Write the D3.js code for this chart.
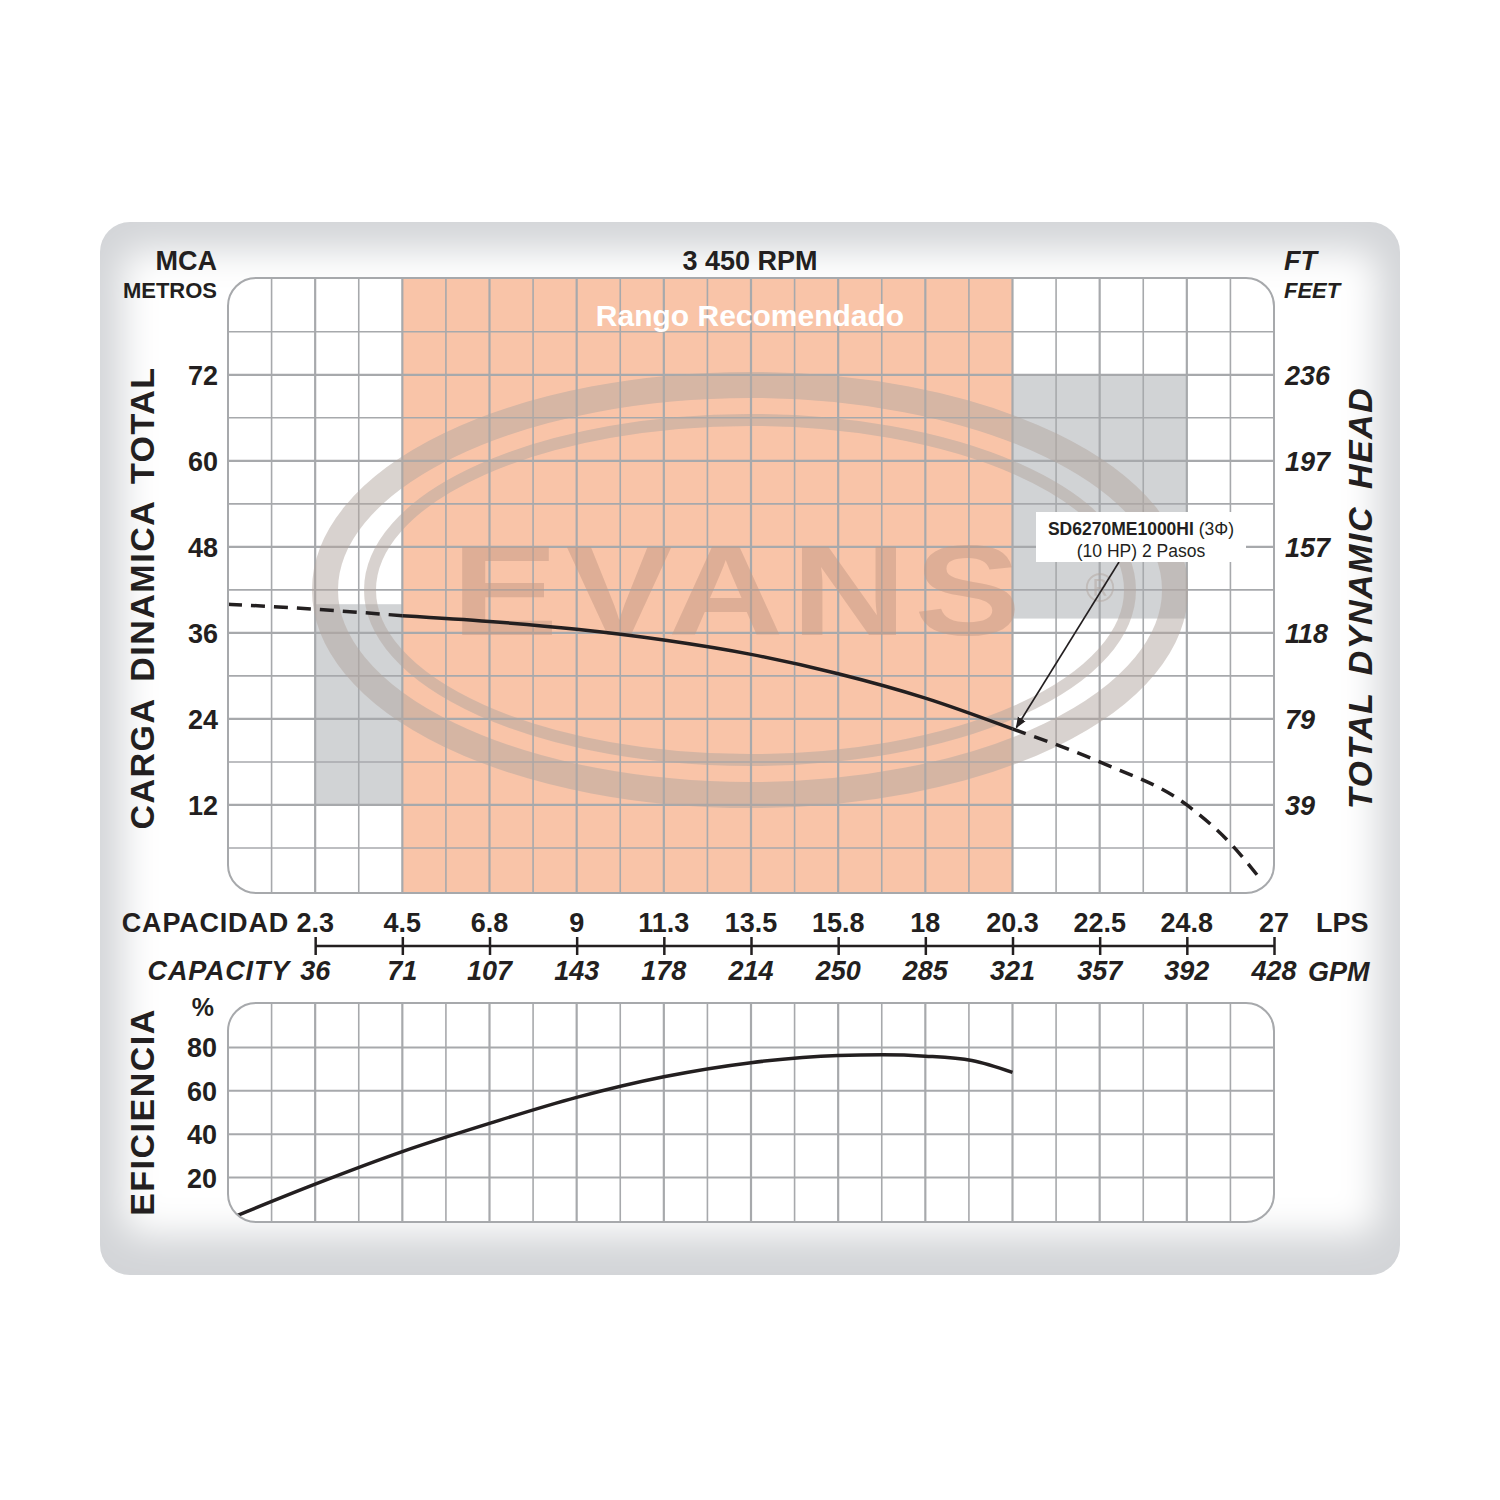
<!DOCTYPE html>
<html>
<head>
<meta charset="utf-8">
<script src="https://cdn.jsdelivr.net/npm/d3@7"></script>
<style>
  body { margin: 0; background: #fff; }
  text { font-family: "Liberation Sans", Arial, sans-serif; font-weight: bold; fill: #231f20; }
</style>
</head>
<body>
<script>
// data
const lpsTicks = [2.25, 4.5, 6.75, 9, 11.25, 13.5, 15.75, 18, 20.25, 22.5, 24.75, 27]
const lpsLabels = ["2.3", "4.5", "6.8", "9", "11.3", "13.5", "15.8", "18", "20.3", "22.5", "24.8", "27"]
const gpmLabels = ["36", "71", "107", "143", "178", "214", "250", "285", "321", "357", "392", "428"]
const headTicks = [12, 24, 36, 48, 60, 72]
const feetLabels = ["39", "79", "118", "157", "197", "236"]
const effTicks = [20, 40, 60, 80]

const headSolid = [[4.5, 38.4], [6.75, 37.6], [9, 36.5], [11.25, 35.0], [13.5, 33.0], [15.75, 30.3], [18, 26.9], [20.25, 22.6]]
const headDashLeft = [[0, 40.0], [2.25, 39.3], [4.5, 38.4]]
const headDashRight = [[20.25, 22.6], [22.5, 18.0], [24.75, 12.0], [25.9, 6.5], [26.6, 2.0]]
const effCurve = [[0.2, 2.3], [2.25, 17], [4.5, 32], [6.75, 45], [9, 57], [11.25, 66.5], [13.5, 73], [15.75, 76.3], [16.9, 76.6], [18, 76.0], [19.2, 74.0], [20.25, 68.5]]

const recommended = [4.5, 20.25]
const grayZones = [{x0: 2.25, x1: 4.5, y0: 12, y1: 40}, {x0: 20.25, x1: 24.75, y0: 38, y1: 72}]

const W = 1500, H = 1500
const svg = d3.select("body").append("svg").attr("width", W).attr("height", H)
const defs = svg.append("defs")

const x = d3.scaleLinear().domain([0, 27]).range([228, 1274])
const y = d3.scaleLinear().domain([0, 85.5]).range([891, 278])
const ye = d3.scaleLinear().domain([0, 100.5]).range([1221, 1003])

// outer panel
defs.append("filter").attr("id", "blur").append("feGaussianBlur").attr("stdDeviation", 18)
svg.append("rect").attr("x", 100).attr("y", 222).attr("width", 1300).attr("height", 1053)
  .attr("rx", 30).attr("fill", "#d3d5d8")
svg.append("rect").attr("x", 122).attr("y", 250).attr("width", 1256).attr("height", 985)
  .attr("rx", 20).attr("fill", "#fff").attr("filter", "url(#blur)")

function plotArea(top, bottom, id) {
  defs.append("clipPath").attr("id", id).append("rect")
    .attr("x", 228).attr("y", top).attr("width", 1274 - 228).attr("height", bottom - top).attr("rx", 28)
  svg.append("rect").attr("x", 228).attr("y", top).attr("width", 1274 - 228).attr("height", bottom - top)
    .attr("rx", 28).attr("fill", "#fff")
  return svg.append("g").attr("clip-path", `url(#${id})`)
}

// ---- head chart
const g = plotArea(278, 893, "clipMain")

g.selectAll(".gz").data(grayZones).join("rect")
  .attr("x", d => x(d.x0)).attr("width", d => x(d.x1) - x(d.x0))
  .attr("y", d => y(d.y1)).attr("height", d => y(d.y0) - y(d.y1))
  .attr("fill", "#d1d3d5")

g.append("rect").attr("x", x(recommended[0])).attr("width", x(recommended[1]) - x(recommended[0]))
  .attr("y", 278).attr("height", 615).attr("fill", "#f9c4a8")

const vLines = d3.range(1, 24).map(i => i * 1.125)
g.selectAll(".vl").data(vLines).join("line")
  .attr("x1", d => x(d)).attr("x2", d => x(d)).attr("y1", 278).attr("y2", 893)
  .attr("stroke", "#a7a9ac").attr("stroke-width", (d, i) => i % 2 ? 2.2 : 1.6)
g.selectAll(".hl").data(d3.range(1, 14).map(i => i * 6)).join("line")
  .attr("x1", 228).attr("x2", 1274).attr("y1", d => y(d)).attr("y2", d => y(d))
  .attr("stroke", "#a7a9ac").attr("stroke-width", (d, i) => i % 2 ? 2.2 : 1.6)

// watermark logo
const logo = g.append("g").attr("opacity", 0.5)
const cx = 750, cy = 590
logo.append("ellipse").attr("cx", cx).attr("cy", cy).attr("rx", 425).attr("ry", 205)
  .attr("fill", "none").attr("stroke", "#b3a7a0").attr("stroke-width", 26)
logo.append("ellipse").attr("cx", cx).attr("cy", cy).attr("rx", 380).attr("ry", 170)
  .attr("fill", "none").attr("stroke", "#b3a7a0").attr("stroke-width", 12)
logo.append("text").attr("x", cx - 10).attr("y", cy + 45).attr("text-anchor", "middle")
  .attr("font-size", 128).attr("transform", `translate(${cx - 10},0) scale(1.25,1) translate(${-(cx - 10)},0)`)
  .style("fill", "#c49a85").attr("letter-spacing", 6).text("EVANS")
logo.append("text").attr("x", 1100).attr("y", 602).attr("text-anchor", "middle")
  .attr("font-size", 40).style("fill", "#b3a7a0").style("font-weight", "normal").text("®")

g.append("text").attr("x", 750).attr("y", 326).attr("text-anchor", "middle")
  .attr("font-size", 30).style("fill", "#fff").text("Rango Recomendado")

const line = d3.line().x(d => x(d[0])).y(d => y(d[1])).curve(d3.curveMonotoneX)
g.append("path").attr("d", line(headSolid)).attr("fill", "none").attr("stroke", "#231f20").attr("stroke-width", 3.5)
;[headDashLeft, headDashRight].forEach(s => g.append("path").attr("d", line(s)).attr("fill", "none")
  .attr("stroke", "#231f20").attr("stroke-width", 3.5).attr("stroke-dasharray", "14,9"))

svg.append("rect").attr("x", 228).attr("y", 278).attr("width", 1046).attr("height", 615)
  .attr("rx", 28).attr("fill", "none").attr("stroke", "#a7a9ac").attr("stroke-width", 2)

// annotation
defs.append("marker").attr("id", "arrow").attr("viewBox", "0 0 10 10").attr("refX", 9).attr("refY", 5)
  .attr("markerWidth", 7).attr("markerHeight", 7).attr("orient", "auto")
  .append("path").attr("d", "M0,1 L10,5 L0,9 z").attr("fill", "#231f20")
svg.append("line").attr("x1", 1119).attr("y1", 562).attr("x2", x(20.35)).attr("y2", y(22.8))
  .attr("stroke", "#231f20").attr("stroke-width", 1.6).attr("marker-end", "url(#arrow)")
svg.append("rect").attr("x", 1036).attr("y", 512).attr("width", 210).attr("height", 50).attr("fill", "#fff")
const ann = svg.append("text").attr("x", 1141).attr("y", 535).attr("text-anchor", "middle").attr("font-size", 17.5)
ann.append("tspan").text("SD6270ME1000HI ")
ann.append("tspan").style("font-weight", "normal").text("(3Φ)")
svg.append("text").attr("x", 1141).attr("y", 557).attr("text-anchor", "middle").attr("font-size", 17.5)
  .style("font-weight", "normal").text("(10 HP) 2 Pasos")

// head axis labels
svg.selectAll(".yl").data(headTicks).join("text").attr("x", 218).attr("y", d => y(d) + 10)
  .attr("text-anchor", "end").attr("font-size", 27).text(d => d)
svg.selectAll(".yr").data(feetLabels).join("text").attr("x", 1285).attr("y", (d, i) => y(headTicks[i]) + 10)
  .attr("font-size", 27).style("font-style", "italic").text(d => d)
svg.append("text").attr("x", 217).attr("y", 270).attr("text-anchor", "end").attr("font-size", 27).text("MCA")
svg.append("text").attr("x", 217).attr("y", 298).attr("text-anchor", "end").attr("font-size", 22).text("METROS")
svg.append("text").attr("x", 1284).attr("y", 270).attr("font-size", 27).style("font-style", "italic").text("FT")
svg.append("text").attr("x", 1284).attr("y", 298).attr("font-size", 22).style("font-style", "italic").text("FEET")
svg.append("text").attr("x", 750).attr("y", 270).attr("text-anchor", "middle").attr("font-size", 27).text("3 450 RPM")
svg.append("text").attr("transform", "translate(154,598) rotate(-90)").attr("text-anchor", "middle")
  .attr("font-size", 34).attr("letter-spacing", 1.5).attr("word-spacing", 6).text("CARGA  DINAMICA  TOTAL")
svg.append("text").attr("transform", "translate(1372,598) rotate(-90)").attr("text-anchor", "middle")
  .attr("font-size", 34).attr("letter-spacing", 1.5).attr("word-spacing", 6).style("font-style", "italic").text("TOTAL  DYNAMIC  HEAD")

// capacity axis
const axis = svg.append("g").attr("transform", "translate(0,946)")
  .call(d3.axisBottom(x).tickValues(lpsTicks.slice()).tickSize(0).tickFormat(""))
axis.select(".domain").attr("d", `M${x(2.25)},0H${x(27)}`).attr("stroke", "#231f20").attr("stroke-width", 2.5)
axis.selectAll(".tick line").attr("y1", -9).attr("y2", 9).attr("stroke", "#231f20").attr("stroke-width", 2.5)
svg.selectAll(".lps").data(lpsLabels).join("text").attr("x", (d, i) => x(lpsTicks[i])).attr("y", 932)
  .attr("text-anchor", "middle").attr("font-size", 27).text(d => d)
svg.selectAll(".gpm").data(gpmLabels).join("text").attr("x", (d, i) => x(lpsTicks[i])).attr("y", 980)
  .attr("text-anchor", "middle").attr("font-size", 27).style("font-style", "italic").text(d => d)
svg.append("text").attr("x", 289).attr("y", 932).attr("text-anchor", "end").attr("font-size", 27)
  .attr("letter-spacing", 0.8).text("CAPACIDAD")
svg.append("text").attr("x", 290).attr("y", 980).attr("text-anchor", "end").attr("font-size", 27)
  .attr("letter-spacing", 0.8).style("font-style", "italic").text("CAPACITY")
svg.append("text").attr("x", 1316).attr("y", 932).attr("font-size", 27).text("LPS")
svg.append("text").attr("x", 1308).attr("y", 981).attr("font-size", 27).style("font-style", "italic").text("GPM")

// ---- efficiency chart
const ge = plotArea(1003, 1222, "clipEff")
ge.selectAll(".vl").data(vLines).join("line")
  .attr("x1", d => x(d)).attr("x2", d => x(d)).attr("y1", 1003).attr("y2", 1222)
  .attr("stroke", "#a7a9ac").attr("stroke-width", (d, i) => i % 2 ? 2.2 : 1.6)
ge.selectAll(".hl").data(effTicks).join("line")
  .attr("x1", 228).attr("x2", 1274).attr("y1", d => ye(d)).attr("y2", d => ye(d))
  .attr("stroke", "#a7a9ac").attr("stroke-width", 2)
const eLine = d3.line().x(d => x(d[0])).y(d => ye(d[1])).curve(d3.curveMonotoneX)
ge.append("path").attr("d", eLine(effCurve)).attr("fill", "none").attr("stroke", "#231f20").attr("stroke-width", 3.5)
svg.append("rect").attr("x", 228).attr("y", 1003).attr("width", 1046).attr("height", 219)
  .attr("rx", 28).attr("fill", "none").attr("stroke", "#a7a9ac").attr("stroke-width", 2)

svg.selectAll(".el").data(effTicks).join("text").attr("x", 217).attr("y", d => ye(d) + 10)
  .attr("text-anchor", "end").attr("font-size", 27).text(d => d)
svg.append("text").attr("x", 214).attr("y", 1016).attr("text-anchor", "end").attr("font-size", 25).text("%")
svg.append("text").attr("transform", "translate(154,1112) rotate(-90)").attr("text-anchor", "middle")
  .attr("font-size", 34).attr("letter-spacing", 1.5).text("EFICIENCIA")
</script>
</body>
</html>
